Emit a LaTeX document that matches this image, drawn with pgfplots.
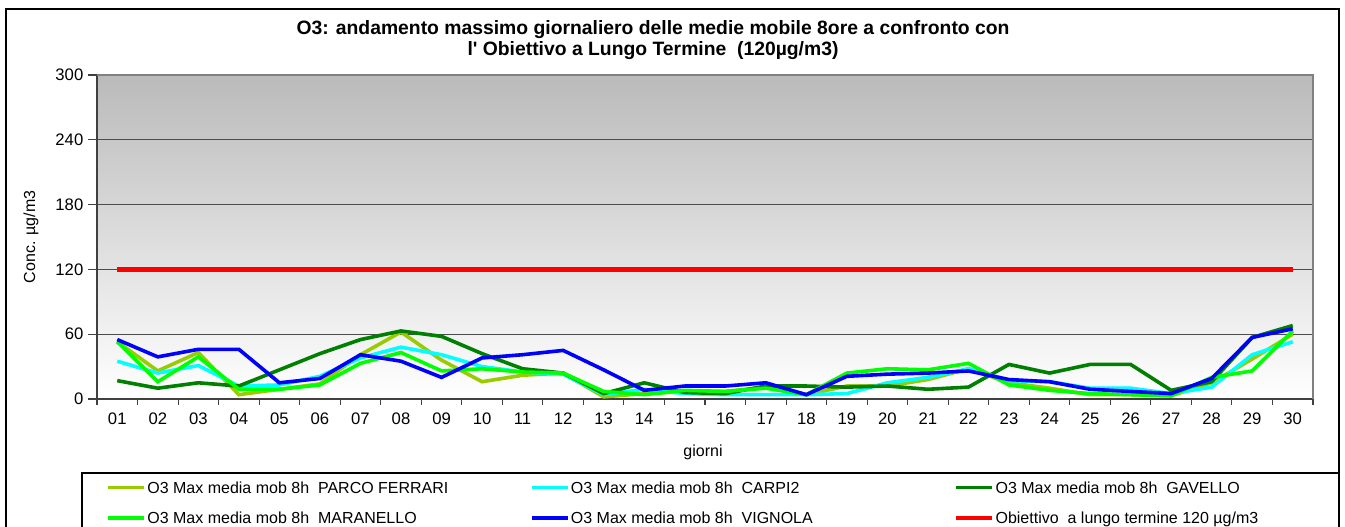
\documentclass[border=0pt]{standalone}
\usepackage{fontspec}
\setmainfont{Liberation Sans}
\usepackage{pgfplots}
\usepackage{pgfplotstable}
\pgfplotsset{compat=1.18}
\definecolor{cFerrari}{HTML}{99CC00}
\definecolor{cCarpi}{HTML}{00FFFF}
\definecolor{cGavello}{HTML}{008000}
\definecolor{cMaranello}{HTML}{00FF00}
\definecolor{cVignola}{HTML}{0000FF}
\definecolor{cObj}{HTML}{FF0000}

% giorno, PARCO FERRARI, CARPI2, GAVELLO, MARANELLO, VIGNOLA
\pgfplotstableread{
g  fer car gav mar vig
1  53  35  17  53  55
2  26  24  10  16  39
3  43  31  15  39  46
4  4   12  12  9   46
5  9   13  27  9   15
6  14  21  42  13  19
7  41  38  55  33  41
8  62  48  63  43  35
9  36  41  58  26  20
10 16  30  42  28  38
11 22  25  28  25  41
12 24  23  24  24  45
13 2   4   5   7   27
14 5   9   15  4   8
15 7   5   6   8   12
16 7   4   5   7   12
17 11  4   12  10  15
18 4   4   12  4   4
19 12  5   11  24  21
20 12  15  12  28  23
21 18  20  9   27  24
22 28  28  11  33  26
23 15  17  32  13  18
24 10  16  24  8   16
25 4   10  32  5   9
26 4   10  32  4   7
27 3   5   8   3   5
28 15  11  16  20  19
29 37  41  57  26  57
30 60  53  68  63  65
}\datatab

\newcommand{\leg}[1]{\makebox[288pt][l]{\hspace{1pt}\strut #1}}

\begin{document}
\begin{tikzpicture}
\useasboundingbox (0,0) rectangle (1008.75pt,395.25pt);
\draw[black, line width=0.9pt] (4.5pt,-3pt) -- (4.5pt,388.5pt) -- (1004.25pt,388.5pt) -- (1004.25pt,-3pt);
\draw[black, line width=0.9pt] (61.5pt,-3pt) -- (61.5pt,40.5pt) -- (1004.25pt,40.5pt);

\node[font=\fontsize{14.5}{16}\selectfont\bfseries] at (489.75pt,372.75pt)
  {O3: andamento massimo giornaliero delle medie mobile 8ore a confronto con};
\node[font=\fontsize{14.5}{16}\selectfont\bfseries] at (489.75pt,357pt)
  {l\textquotesingle\ Obiettivo a Lungo Termine\ \ (120µg/m3)};
\node[font=\fontsize{12}{14}\selectfont, rotate=90] at (23.25pt,217.5pt) {Conc. µg/m3};
\node[font=\fontsize{12}{14}\selectfont] at (527.25pt,56.25pt) {giorni};

\begin{axis}[
  at={(72.75pt,96pt)}, anchor=south west,
  width=912pt, height=243pt, scale only axis,
  xmin=0.5, xmax=30.5, ymin=0, ymax=300,
  xtick={1,...,30},
  xticklabels={01,02,03,04,05,06,07,08,09,10,11,12,13,14,15,16,17,18,19,20,21,22,23,24,25,26,27,28,29,30},
  minor xtick={0.5,1.5,...,30.5},
  ytick={0,60,...,300},
  axis x line*=bottom, axis y line*=left,
  axis line style={-, draw=black!75, line width=0.8pt},
  tick align=outside,
  major tick length=6.75pt, minor tick length=4.5pt,
  major x tick style={draw=none},
  minor x tick style={draw=black!75, line width=0.8pt},
  major y tick style={draw=black!75, line width=0.8pt},
  ymajorgrids, grid style={draw=black!70, line width=0.8pt},
  axis background/.style={top color=black!27, bottom color=white},
  /pgf/number format/assume math mode=true,
  ticklabel style={font=\fontsize{12.5}{14}\selectfont},
  legend columns=3,
  legend style={at={(axis description cs:0.0075,-0.32)}, anchor=west,
    draw=none, fill=none, inner sep=0pt,
    nodes={inner sep=0pt, anchor=west},
    column sep=0pt, row sep=11.5pt,
    font=\fontsize{12}{14}\selectfont},
  legend image code/.code={\draw[#1] (0pt,0pt) -- (27pt,0pt);},
  clip=false,
]
\draw[black!50, line width=0.8pt] (rel axis cs:0,1) -- (rel axis cs:1,1) -- (rel axis cs:1,0);
\addplot[cFerrari, line width=2.7pt] table[x=g, y=fer] {\datatab};
\addlegendentry{\leg{O3 Max media mob 8h\ \ PARCO FERRARI}}
\addplot[cCarpi, line width=2.7pt] table[x=g, y=car] {\datatab};
\addlegendentry{\leg{O3 Max media mob 8h\ \ CARPI2}}
\addplot[cGavello, line width=2.7pt] table[x=g, y=gav] {\datatab};
\addlegendentry{\leg{O3 Max media mob 8h\ \ GAVELLO}}
\addplot[cMaranello, line width=2.7pt] table[x=g, y=mar] {\datatab};
\addlegendentry{\leg{O3 Max media mob 8h\ \ MARANELLO}}
\addplot[cVignola, line width=2.7pt] table[x=g, y=vig] {\datatab};
\addlegendentry{\leg{O3 Max media mob 8h\ \ VIGNOLA}}
\addplot[cObj, line width=3.5pt] coordinates {(1,120) (30,120)};
\addlegendentry{\leg{Obiettivo\ \ a lungo termine 120 µg/m3}}
\end{axis}
\end{tikzpicture}
\end{document}
